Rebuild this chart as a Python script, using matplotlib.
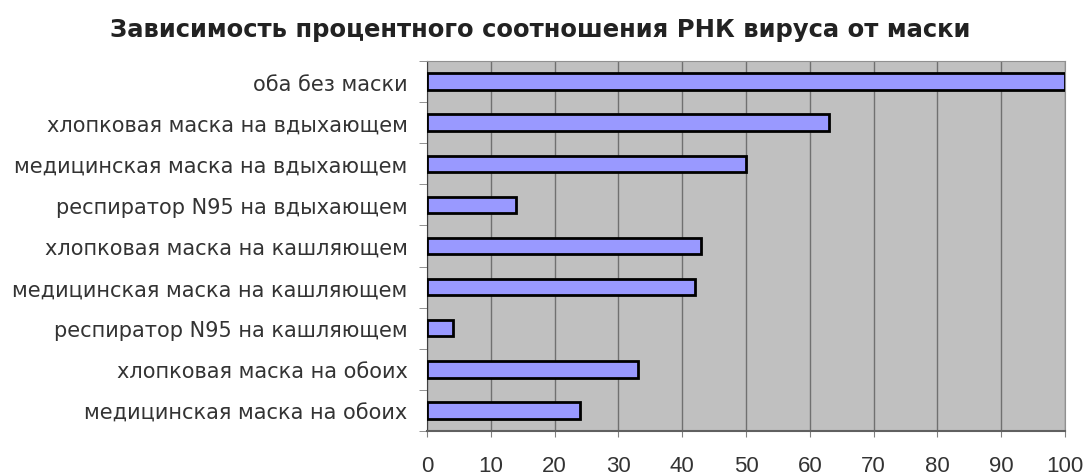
import matplotlib.pyplot as plt
import numpy as np

# data
categories = ["оба без маски",
              "хлопковая маска на вдыхающем",
              "медицинская маска на вдыхающем",
              "респиратор N95 на вдыхающем",
              "хлопковая маска на кашляющем",
              "медицинская маска на кашляющем",
              "респиратор N95 на кашляющем",
              "хлопковая маска на обоих",
              "медицинская маска на обоих"]
values = [100, 63, 50, 14, 43, 42, 4, 33, 24]
xticks = list(range(0, 101, 10))

plt.rcParams['font.family'] = ['DejaVu Sans']

fig = plt.figure(figsize=(10.86, 4.77), dpi=100)
ax = fig.add_axes([0.3932, 0.0943, 0.5875, 0.7757])

pos = np.arange(len(categories))
ax.barh(pos, values, height=0.4, color="#9999ff", edgecolor="black",
        linewidth=2, zorder=3)

ax.set_facecolor("#c0c0c0")
ax.set_xlim(0, 100)
ax.set_ylim(len(categories) - 0.5, -0.5)
ax.set_xticks(xticks)
ax.set_xticklabels([str(t) for t in xticks], fontsize=16, family="Liberation Sans")
ax.set_yticks(pos)
ax.set_yticklabels(categories, fontsize=15, color="#333333")
ax.set_yticks(np.arange(-0.5, len(categories)), minor=True)
ax.tick_params(axis="y", which="major", length=0, pad=14)
ax.tick_params(axis="y", which="minor", length=6, color="#808080")
ax.tick_params(axis="x", length=4, color="#808080", pad=13, labelcolor="#333333")
ax.grid(axis="x", color="#707070", linewidth=1, zorder=1)
for s in ax.spines.values():
    s.set_color("#909090")
ax.spines["left"].set_color("#404040")
ax.spines["bottom"].set_color("#606060")
ax.spines["bottom"].set_linewidth(1.5)

fig.text(0.497, 0.937, "Зависимость процентного соотношения РНК вируса от маски",
         ha="center", va="center", fontsize=17.5, fontweight="bold", color="#222222")

plt.savefig("out.png")
